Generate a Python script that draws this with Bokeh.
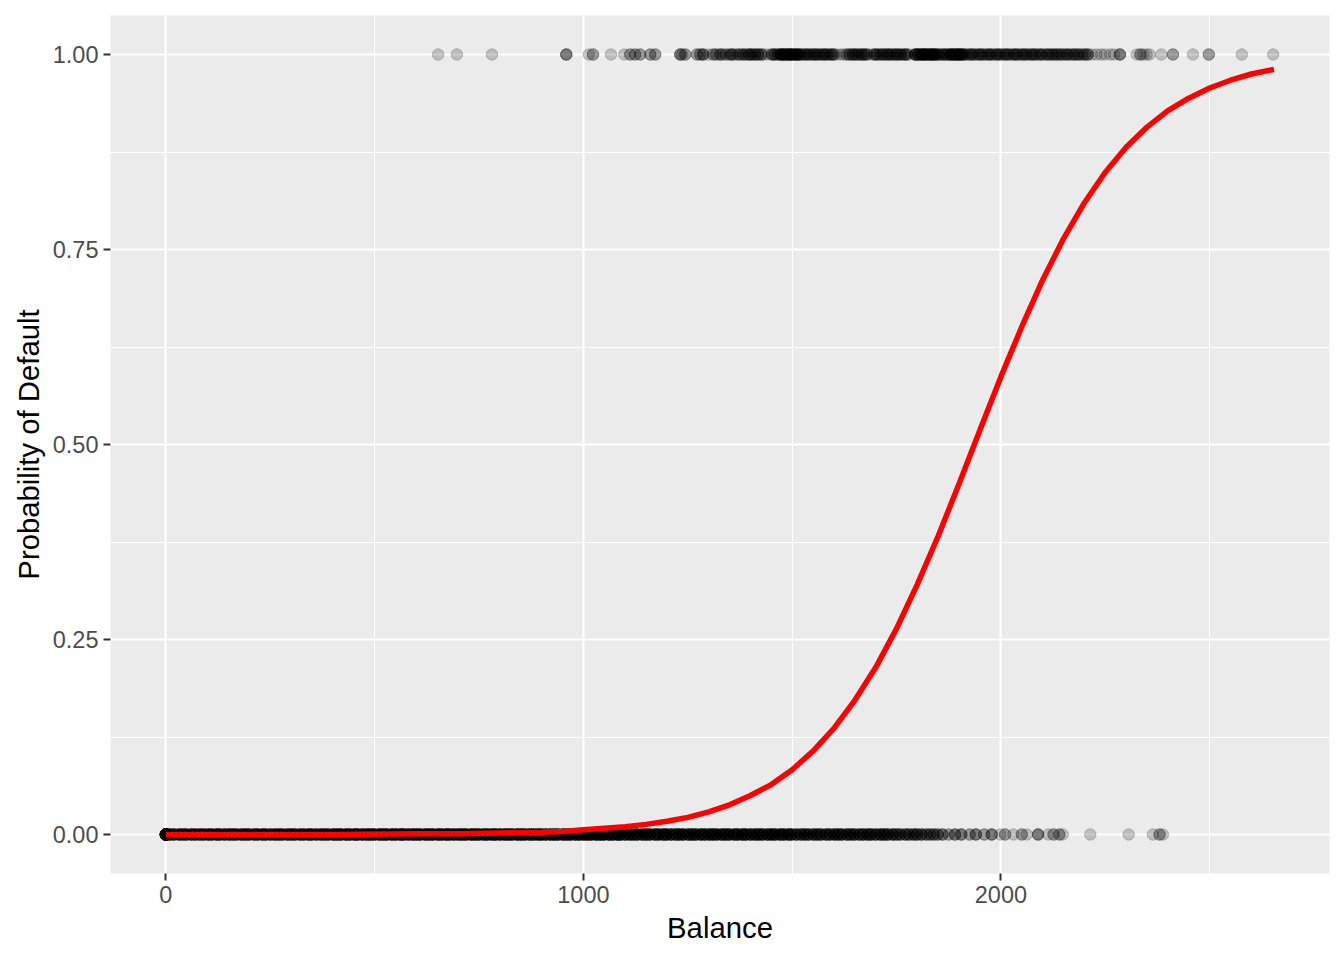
import numpy as np
from bokeh.plotting import figure
from bokeh.models import Range1d, SingleIntervalTicker, NumeralTickFormatter, ColumnDataSource
from bokeh.embed import file_html
from bokeh.resources import INLINE

# ---- data ----
# customers who did not default (y = 0): balance and number of customers at that balance
nondefault_balance = [
    0, 9, 19, 31, 40, 49, 61, 70, 81, 90,
    101, 110, 121, 129, 140, 151, 160, 169, 181, 190,
    199, 211, 220, 231, 239, 250, 261, 270, 279, 291,
    300, 309, 321, 330, 341, 349, 360, 371, 380, 389,
    401, 410, 419, 431, 440, 451, 459, 470, 481, 490,
    499, 511, 520, 529, 541, 550, 561, 569, 580, 591,
    600, 609, 621, 630, 639, 651, 660, 671, 679, 690,
    701, 710, 719, 731, 740, 749, 761, 770, 781, 789,
    800, 811, 820, 829, 841, 850, 859, 871, 880, 891,
    899, 910, 921, 930, 939, 951, 960, 969, 981, 990,
    1001, 1010, 1019, 1031, 1040, 1049, 1061, 1070, 1081, 1089,
    1100, 1111, 1120, 1129, 1141, 1150, 1159, 1171, 1180, 1191,
    1199, 1210, 1221, 1230, 1239, 1251, 1260, 1269, 1281, 1290,
    1301, 1310, 1319, 1331, 1340, 1349, 1361, 1370, 1381, 1389,
    1400, 1411, 1420, 1429, 1441, 1450, 1459, 1471, 1480, 1491,
    1499, 1510, 1521, 1530, 1539, 1551, 1560, 1569, 1581, 1590,
    1601, 1610, 1619, 1631, 1640, 1649, 1661, 1670, 1681, 1689,
    1700, 1711, 1720, 1729, 1741, 1750, 1759, 1771, 1780, 1791,
    1799, 1810, 1821, 1830, 1839, 1848,
    1860, 1875, 1890, 1905, 1925, 1940, 1960, 1978, 1998, 2010,
    2030, 2050, 2062, 2089, 2113, 2126, 2140, 2148, 2214, 2306,
    2364, 2380, 2388]
nondefault_count = [
    25, 6, 6, 6, 6, 6, 6, 6, 6, 6,
    6, 6, 6, 6, 6, 6, 6, 6, 6, 6,
    6, 6, 6, 6, 6, 6, 6, 6, 6, 6,
    6, 6, 6, 6, 6, 6, 6, 6, 6, 6,
    7, 7, 7, 7, 7, 7, 7, 7, 7, 7,
    7, 7, 7, 7, 7, 7, 7, 7, 7, 7,
    7, 7, 7, 7, 7, 7, 7, 7, 7, 7,
    7, 7, 7, 7, 7, 7, 7, 7, 7, 7,
    7, 7, 7, 7, 7, 7, 7, 7, 7, 7,
    7, 7, 7, 7, 7, 7, 7, 7, 7, 7,
    7, 7, 7, 7, 7, 7, 7, 7, 7, 7,
    6, 6, 6, 6, 6, 6, 6, 6, 6, 6,
    6, 6, 6, 6, 6, 6, 6, 6, 6, 6,
    6, 6, 6, 6, 6, 6, 6, 6, 6, 6,
    6, 6, 6, 6, 6, 6, 6, 6, 6, 6,
    5, 5, 5, 5, 5, 5, 5, 5, 5, 5,
    5, 5, 5, 5, 5, 5, 5, 5, 5, 5,
    5, 5, 5, 5, 5, 4, 4, 4, 4, 4,
    4, 4, 3, 3, 3, 3,
    3, 2, 3, 3, 2, 3, 2, 3, 1, 2,
    1, 2, 1, 3, 1, 2, 2, 1, 1, 1,
    1, 2, 1]

# customers who defaulted (y = 1)
default_balance = [
    652, 697, 781, 959, 1013, 1023, 1066, 1098, 1112, 1124, 1136, 1160, 1172,
    1232, 1237, 1244, 1272, 1280, 1287, 1300, 1311, 1318, 1328, 1334, 1341, 1350,
    1356, 1362, 1369, 1375, 1383, 1390,
    1397, 1403, 1411, 1418, 1426, 1433, 1442, 1452, 1458, 1466,
    1473, 1479, 1487, 1494, 1500, 1508, 1515,
    1522, 1530, 1536, 1543, 1551, 1557, 1564, 1572, 1578, 1585, 1593, 1599,
    1606, 1615, 1622, 1630, 1637, 1645, 1651, 1658, 1666, 1672, 1679, 1688,
    1697, 1703, 1711, 1718, 1726, 1732, 1739, 1747, 1753, 1760, 1768, 1774, 1782,
    1795, 1802, 1810, 1816, 1823, 1831, 1837, 1844,
    1851, 1859, 1865, 1872, 1879, 1886, 1894, 1900, 1907,
    1914, 1922, 1928, 1935, 1943, 1949, 1956, 1964, 1970, 1977, 1985, 1991,
    1998, 2006, 2012, 2019, 2027, 2033, 2040, 2048, 2054, 2061, 2069, 2075,
    2082, 2090, 2096, 2103, 2111, 2117, 2124, 2132, 2138, 2145, 2153, 2159,
    2166, 2174, 2180, 2187, 2195, 2201, 2208,
    2218, 2229, 2240, 2249, 2262, 2271, 2285,
    2325, 2334, 2341, 2349, 2356, 2384, 2412, 2460, 2498, 2577, 2652]
default_count = [
    1, 1, 1, 3, 1, 2, 1, 1, 2, 2, 2, 2, 2,
    3, 1, 2, 2, 2, 3, 1, 2, 2, 3, 1, 2, 2,
    3, 1, 2, 2, 3, 2,
    3, 3, 3, 3, 3, 1, 1, 3, 3, 3,
    5, 5, 5, 5, 5, 5, 5,
    3, 3, 3, 3, 3, 3, 3, 3, 3, 3, 3, 3,
    1, 1, 1, 2, 3, 3, 3, 3, 3, 3, 3, 1,
    3, 3, 3, 3, 3, 3, 3, 3, 3, 3, 3, 3, 1,
    5, 5, 5, 5, 5, 5, 5, 5,
    3, 3, 3, 3, 5, 5, 5, 5, 5,
    3, 2, 3, 3, 2, 3, 3, 2, 3, 3, 2, 3,
    3, 2, 3, 3, 2, 3, 3, 2, 3, 3, 2, 3,
    3, 2, 3, 2, 3, 2, 3, 3, 2, 3, 2, 3,
    2, 3, 2, 3, 2, 2, 3,
    1, 1, 1, 1, 1, 1, 3,
    1, 2, 1, 1, 1, 1, 2, 1, 2, 1, 1]

# fitted probability of default
curve_balance = [0, 200, 400, 600, 700, 800, 900, 950, 1000, 1050, 1100, 1150, 1200, 1250,
                 1300, 1350, 1400, 1450, 1500, 1550, 1600, 1650, 1700, 1750, 1800, 1850,
                 1900, 1950, 2000, 2050, 2100, 2150, 2200, 2250, 2300, 2350, 2400, 2450,
                 2500, 2550, 2600, 2654]
curve_prob = [0.000, 0.000, 0.000, 0.001, 0.001, 0.002, 0.003, 0.004, 0.006, 0.008, 0.010,
              0.013, 0.017, 0.022, 0.029, 0.038, 0.050, 0.064, 0.083, 0.107, 0.136, 0.172,
              0.214, 0.264, 0.321, 0.383, 0.450, 0.519, 0.587, 0.651, 0.711, 0.764, 0.810,
              0.849, 0.881, 0.907, 0.928, 0.944, 0.957, 0.967, 0.975, 0.981]

x_ticks_interval = 1000
y_ticks_interval = 0.25

# ---- build point table ----
pts_x = np.concatenate([np.repeat(nondefault_balance, nondefault_count),
                        np.repeat(default_balance, default_count)])
pts_y = np.concatenate([np.zeros(int(np.sum(nondefault_count))),
                        np.ones(int(np.sum(default_count)))])
pts = ColumnDataSource(dict(x=pts_x, y=pts_y))
curve = ColumnDataSource(dict(x=curve_balance, y=curve_prob))

FONT = "Liberation Sans"

p = figure(width=1340, height=956, output_backend="svg", toolbar_location=None,
           x_range=Range1d(-132.7, 2787), y_range=Range1d(-0.05, 1.05),
           min_border_left=110, min_border_right=11, min_border_top=15, min_border_bottom=83)
p.background_fill_color = "#EBEBEB"
p.border_fill_color = "white"
p.outline_line_color = None

xt = SingleIntervalTicker(interval=x_ticks_interval, num_minor_ticks=2)
yt = SingleIntervalTicker(interval=y_ticks_interval, num_minor_ticks=2)
p.xaxis.ticker = xt
p.xgrid.ticker = xt
p.yaxis.ticker = yt
p.ygrid.ticker = yt
p.yaxis.formatter = NumeralTickFormatter(format="0.00")
p.xaxis.formatter = NumeralTickFormatter(format="0")

for g in (p.xgrid, p.ygrid):
    g.grid_line_color = "white"
    g.grid_line_width = 2.1
    g.minor_grid_line_color = "white"
    g.minor_grid_line_width = 1.05

for ax in (p.xaxis, p.yaxis):
    ax.axis_line_color = None
    ax.major_tick_line_color = "#333333"
    ax.major_tick_line_width = 2
    ax.major_tick_out = 7
    ax.major_tick_in = 0
    ax.minor_tick_line_color = None
    ax.major_label_text_font = FONT
    ax.major_label_text_font_size = "23.5px"
    ax.major_label_text_color = "#4D4D4D"
    ax.major_label_standoff = 5
    ax.axis_label_text_font = FONT
    ax.axis_label_text_font_size = "29.3px"
    ax.axis_label_text_font_style = "normal"
    ax.axis_label_text_color = "black"

p.xaxis.axis_label = "Balance"
p.yaxis.axis_label = "Probability of Default"
p.xaxis.axis_label_standoff = 5
p.yaxis.axis_label_standoff = 5

p.scatter("x", "y", source=pts, size=11.5, marker="circle",
          fill_color="black", fill_alpha=0.2, line_color="black", line_alpha=0.2, line_width=1)
p.line("x", "y", source=curve, line_color="#FF0000", line_width=5.5)

open("out.html", "w").write(file_html(p, INLINE))
